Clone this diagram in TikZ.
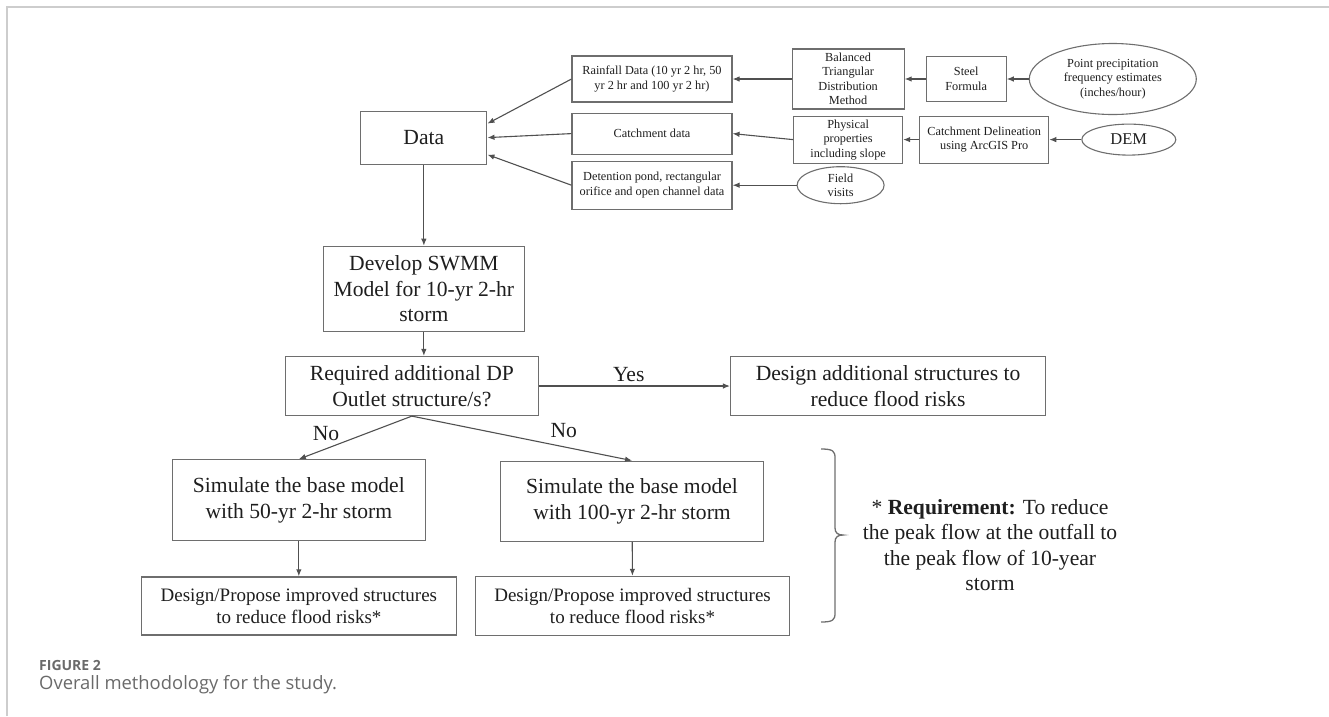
\documentclass[tikz,border=0pt]{standalone}
\usepackage{fontspec}
\setmainfont{Liberation Serif}
\newfontfamily\capfont{Open Sans}
\usepackage{xcolor}
\usepackage{tikz}
\usetikzlibrary{positioning,arrows.meta,shapes.geometric}
\definecolor{edgegray}{HTML}{6E6E6E}
\definecolor{linegray}{HTML}{505050}
\definecolor{inkblack}{HTML}{1E1E1E}
\definecolor{framegray}{HTML}{CDCDCD}
\definecolor{capgray}{HTML}{6A6A6A}
\newcommand{\bigtxt}{\fontsize{21.6}{25.5}\selectfont}
\newcommand{\midtxt}{\fontsize{19}{22.5}\selectfont}
\newcommand{\smalltxt}{\fontsize{12.3}{14.5}\selectfont}

\begin{document}
\begin{tikzpicture}[
  x=1pt, y=-1pt,
  bigbox/.style={draw=edgegray, line width=1.2pt, inner sep=0pt, align=center,
                 font=\bigtxt, text=inkblack},
  topbox/.style={draw=edgegray, line width=1.1pt, inner sep=0pt, align=center,
                 font=\smalltxt, text=inkblack},
  oval/.style  ={ellipse, draw=edgegray, line width=1.1pt, inner sep=0pt,
                 align=center, font=\smalltxt, text=inkblack},
  arr/.style   ={-{Latex[length=7pt,width=5.5pt]}, line width=1.1pt, draw=linegray},
  lbl/.style   ={font=\bigtxt, text=inkblack}
]
\useasboundingbox (0,0) rectangle (1329,716);
\draw[framegray, line width=2pt] (7,716) -- (7,7) -- (1329,7);

% inputs (top rows)
\node[topbox, minimum width=160pt, minimum height=46pt] (rain) at (652,79)
  {Rainfall Data (10 yr 2 hr, 50\\ yr 2 hr and 100 yr 2 hr)};
\node[topbox, minimum width=112pt, minimum height=60pt, right=59pt of rain] (bal)
  {Balanced\\ Triangular\\ Distribution\\ Method};
\node[topbox, minimum width=80pt, minimum height=45pt, right=21pt of bal] (steel)
  {Steel\\ Formula};
\node[oval, minimum width=167pt, minimum height=71pt, right=22pt of steel] (ppt)
  {Point precipitation\\ frequency estimates\\ (inches/hour)};
\node[topbox, minimum width=160pt, minimum height=41pt, below=10pt of rain] (catch)
  {Catchment data};
\node[topbox, minimum width=160pt, minimum height=48pt, below=6pt of catch] (dete)
  {Detention pond, rectangular\\ orifice and open channel data};
\node[topbox, minimum width=109pt, minimum height=47pt, below=6pt of bal] (phys)
  {Physical\\ properties\\ including slope};
\node[topbox, minimum width=129pt, minimum height=47pt, right=16pt of phys] (deli)
  {Catchment Delineation\\ using ArcGIS Pro};
\node[oval, minimum width=94pt, minimum height=31pt, right=32pt of deli,
      font=\fontsize{16.5}{19}\selectfont] (dem) {DEM};
\node[oval, minimum width=87pt, minimum height=37pt, right=64pt of dete] (field)
  {Field\\ visits};

% main flow
\node[bigbox, minimum width=126pt, minimum height=53pt, left=84pt of catch, yshift=-4pt] (data) {Data};
\node[bigbox, minimum width=201pt, minimum height=85pt, below=81pt of data] (dev)
  {Develop SWMM\\ Model for 10-yr 2-hr\\ storm};
\node[bigbox, minimum width=253pt, minimum height=59pt, below=24pt of dev, xshift=-12pt] (req)
  {Required additional DP\\ Outlet structure/s?};
\node[bigbox, minimum width=315pt, minimum height=59pt, right=191pt of req] (des)
  {Design additional structures to\\ reduce flood risks};
\node[bigbox, minimum width=253pt, minimum height=81pt, below=43pt of req, xshift=-113pt] (sim50)
  {Simulate the base model\\ with 50-yr 2-hr storm};
\node[bigbox, minimum width=315pt, minimum height=58pt, below=35pt of sim50, font=\midtxt] (dp50)
  {Design/Propose improved structures\\ to reduce flood risks*};
\node[bigbox, minimum width=263pt, minimum height=80pt, right=74pt of sim50, yshift=-1pt] (sim100)
  {Simulate the base model\\ with 100-yr 2-hr storm};
\node[bigbox, minimum width=314pt, minimum height=59pt, right=18pt of dp50, font=\midtxt] (dp100)
  {Design/Propose improved structures\\ to reduce flood risks*};

\node[lbl, align=center, font=\fontsize{21.6}{25.6}\selectfont] (note) at (990,545)
  {* \textbf{Requirement:} To reduce\\ the peak flow at the outfall to\\ the peak flow of 10-year\\ storm};

\node[anchor=west, inner sep=0pt, text=capgray, font=\capfont\bfseries\fontsize{14}{16}\selectfont] (fig) at (39,665) {FIGURE 2};
\node[anchor=west, inner sep=0pt, text=capgray, font=\capfont\fontsize{18.4}{21}\selectfont] (cap) at (39,685) {Overall methodology for the study.};

\draw[arr] (bal) -- (rain);
\draw[arr] (steel) -- (bal);
\draw[arr] (ppt) -- (steel);
\draw[arr] (phys.west) -- (catch.east);
\draw[arr] (deli) -- (phys);
\draw[arr] (dem) -- (deli);
\draw[arr] (field) -- (dete);
\draw[arr] (rain.west) -- ([yshift=14pt]data.east);
\draw[arr] (catch.west) -- (data.east);
\draw[arr] (dete.west) -- ([yshift=-17pt]data.east);
\draw[arr] (data) -- (dev);
\draw[arr] (dev.south) -- (dev.south |- req.north);
\draw[arr] (req) -- node[lbl, above, pos=0.47] {Yes} (des);
\draw[arr] (req.south) -- node[lbl, above=4pt, pos=0.76] {No} (sim50.north);
\draw[arr] (req.south) -- node[lbl, above=5pt, pos=0.69] {No} (sim100.north);
\draw[arr] (sim50) -- (dp50);
\draw[arr] (sim100) -- (dp100);

% bracket
\coordinate (bt) at (821,449);
\coordinate (bb) at (821,622);
\draw[edgegray, line width=1.3pt] (bt) .. controls (833,449) and (835,451) .. (835,458)
  -- (835,528) .. controls (835,533) and (838,535) .. (843,535)
  .. controls (838,535) and (835,537) .. (835,542)
  -- (835,613) .. controls (835,620) and (833,622) .. (bb);
\end{tikzpicture}
\end{document}
